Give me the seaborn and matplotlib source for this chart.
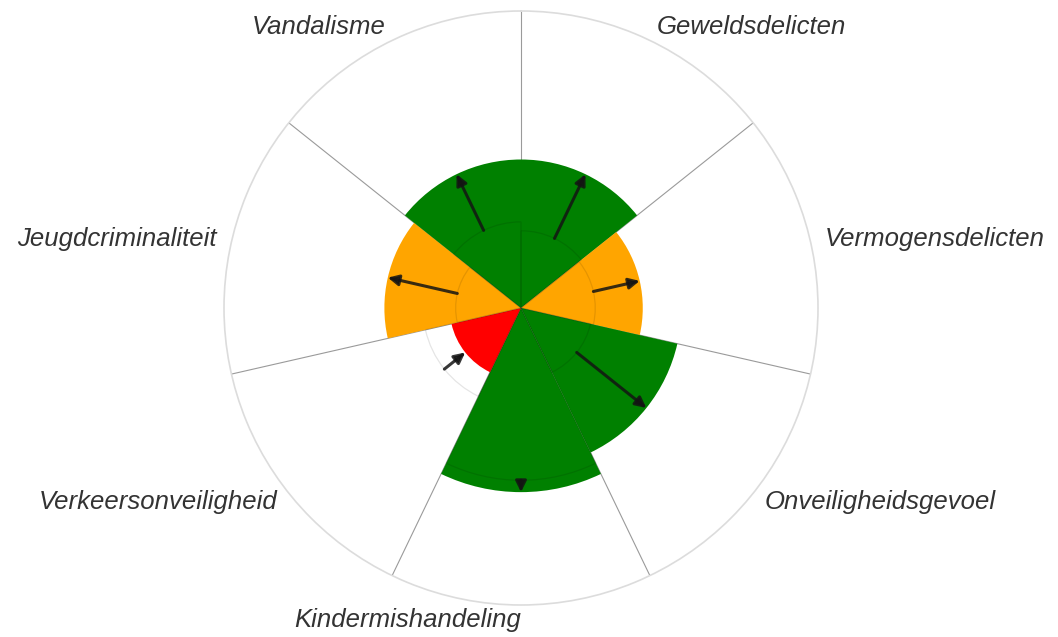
import numpy as np
import pandas as pd
import matplotlib.pyplot as plt
import seaborn as sns

# Sectors clockwise from the top
categories = ["Geweldsdelicten", "Vermogensdelicten", "Onveiligheidsgevoel",
              "Kindermishandeling", "Verkeersonveiligheid", "Jeugdcriminaliteit",
              "Vandalisme"]
current = [50, 41, 54, 62, 24, 46, 50]
previous = [26, 25, 24, 58, 33, 22, 29]
status = ["goed", "matig", "goed", "goed", "slecht", "matig", "goed"]

status_colors = {"goed": "#008000", "matig": "#FFA500", "slecht": "#FF0000"}
r_max = 100

df = pd.DataFrame({"categorie": categories, "huidig": current,
                   "vorig": previous, "status": status})
n = len(df)
width = 2 * np.pi / n
df["theta"] = (np.arange(n) + 0.5) * width

sns.set_theme(style="white")
plt.rcParams["font.family"] = ["Liberation Sans", "DejaVu Sans"]

fig = plt.figure(figsize=(10.58, 6.37), dpi=100)
ax = fig.add_axes([224 / 1058, 32 / 637, 594 / 1058, 594 / 637], projection="polar")
ax.set_theta_zero_location("N")
ax.set_theta_direction(-1)
ax.set_ylim(0, r_max)
ax.grid(False)
ax.set_xticks([])
ax.set_yticks([])
ax.spines["polar"].set_color("#dcdcdc")
ax.spines["polar"].set_linewidth(1.2)

# sector boundaries
for k in range(n):
    ax.plot([k * width, k * width], [0, r_max], color="#9a9a9a", lw=0.8, zorder=1)

# current values
ax.bar(df["theta"], df["huidig"], width=width,
       color=df["status"].map(status_colors), edgecolor="none", zorder=2)

# previous values as faint outlines
ax.bar(df["theta"], df["vorig"], width=width, fill=False,
       edgecolor=(0, 0, 0, 0.1), linewidth=0.9, zorder=3)

# arrows from previous to current
for _, row in df.iterrows():
    ax.annotate("", xy=(row["theta"], row["huidig"]), xytext=(row["theta"], row["vorig"]),
                arrowprops=dict(arrowstyle="-|>", color=(0.08, 0.08, 0.08, 0.85),
                                lw=2.2, mutation_scale=16, shrinkA=0, shrinkB=0),
                zorder=4)

# category labels
for _, row in df.iterrows():
    deg = np.degrees(row["theta"])
    ha = "left" if 0 < deg < 179 else "right"
    ax.text(row["theta"], r_max * 1.05, row["categorie"], ha=ha, va="center",
            fontsize=18.5, fontstyle="italic", color="#333333")

fig.savefig("out.png", dpi=100)
